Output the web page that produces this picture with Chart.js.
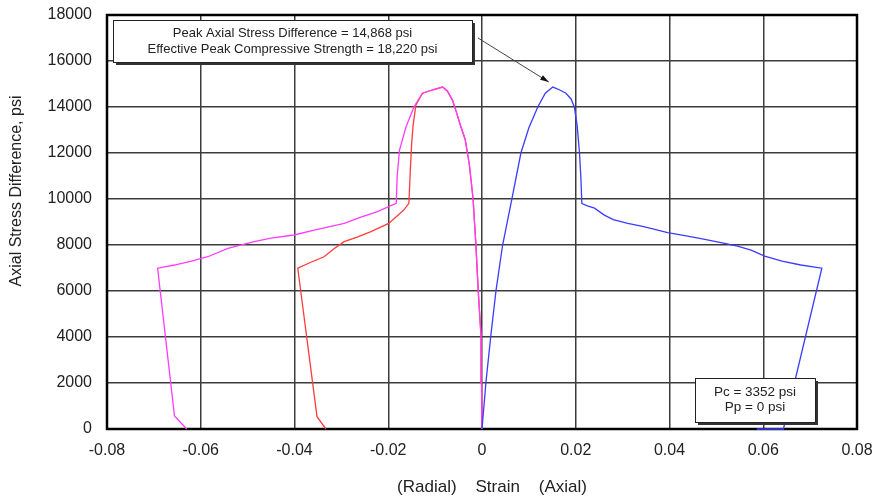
<!DOCTYPE html>
<html>
<head>
<meta charset="utf-8">
<script src="https://cdn.jsdelivr.net/npm/chart.js@4/dist/chart.umd.min.js"></script>
<style>
  body { margin: 0; background: #fff; }
  #wrap { width: 873px; height: 498px; position: relative; }
</style>
</head>
<body>
<div id="wrap"><canvas id="chart"></canvas></div>
<script>
// axial strain (blue)
var axialStrain = [0, 0.00085, 0.0019, 0.003, 0.0044, 0.0064, 0.0083, 0.0100, 0.0119, 0.0135, 0.0151,
  0.0165, 0.0179, 0.0190, 0.0197, 0.0203, 0.0208, 0.0211, 0.0213, 0.0225, 0.0240, 0.0261, 0.0280,
  0.0311, 0.0345, 0.0375, 0.0396, 0.0430, 0.0470, 0.0510, 0.0545, 0.0574, 0.0603, 0.0640, 0.0680,
  0.0725, 0.0643, 0.0586];
var axialStress = [0, 2050, 4090, 6040, 8000, 10030, 12000, 13100, 14000, 14600, 14868,
  14750, 14600, 14350, 14000, 13200, 12000, 10900, 9800, 9700, 9600, 9300, 9100,
  8940, 8800, 8650, 8540, 8420, 8270, 8100, 7950, 7780, 7520, 7300, 7130,
  6990, 0, 0];

// radial strain, first run (magenta)
var radialStrainA = [0, -0.0001, -0.0002, -0.0008, -0.0013, -0.0019, -0.0027, -0.0036, -0.0045, -0.0055,
  -0.0063, -0.0074, -0.0084, -0.0105, -0.0127, -0.0145, -0.0162, -0.0176, -0.0181, -0.0183, -0.0199,
  -0.0223, -0.0260, -0.0294, -0.0358, -0.0401, -0.0450, -0.0486, -0.0542, -0.0585, -0.0620, -0.0656,
  -0.0692, -0.0656, -0.0630];
var radialStressA = [0, 2000, 4000, 6000, 8000, 10000, 11500, 12600, 13140, 13800,
  14300, 14700, 14868, 14750, 14600, 14010, 13140, 12130, 10970, 9810, 9665,
  9450, 9200, 8940, 8650, 8435, 8300, 8145, 7855, 7490, 7300, 7130,
  6990, 565, 0];

// radial strain, second run (red)
var radialStrainB = [0, -0.0001, -0.0002, -0.0008, -0.0013, -0.0019, -0.0027, -0.0036, -0.0045, -0.0055,
  -0.0063, -0.0074, -0.0084, -0.0105, -0.0127, -0.0141, -0.0147, -0.0150, -0.0153, -0.0156, -0.0167,
  -0.0199, -0.0237, -0.0265, -0.0294, -0.0315, -0.0337, -0.0365, -0.0393, -0.0352, -0.0333];
var radialStressB = [0, 2000, 4000, 6000, 8000, 10000, 11500, 12600, 13140, 13800,
  14300, 14700, 14868, 14750, 14600, 14090, 13200, 12420, 11200, 9810, 9520,
  8940, 8580, 8350, 8145, 7850, 7490, 7250, 6990, 535, 0];

var xTicks = [-0.08, -0.06, -0.04, -0.02, 0, 0.02, 0.04, 0.06, 0.08];
var xTickLabels = ["-0.08", "-0.06", "-0.04", "-0.02", "0", "0.02", "0.04", "0.06", "0.08"];
var yTicks = [0, 2000, 4000, 6000, 8000, 10000, 12000, 14000, 16000, 18000];
var yTickLabels = ["0", "2000", "4000", "6000", "8000", "10000", "12000", "14000", "16000", "18000"];

var xTitle = "(Radial)    Strain    (Axial)";
var yTitle = "Axial Stress Difference, psi";
var peakNote = ["Peak Axial Stress Difference = 14,868 psi", "Effective Peak Compressive Strength = 18,220 psi"];
var pressNote = ["Pc = 3352 psi", "Pp = 0 psi"];
var peakPoint = { x: 0.0151, y: 14868 };

var FONT = "'Liberation Sans', Arial, sans-serif";

function pts(xs, ys) {
  return xs.map(function (v, i) { return { x: v, y: ys[i] }; });
}

function noteBox(ctx, x, y, w, h, lines, size, gap) {
  ctx.save();
  ctx.fillStyle = "#333";
  ctx.fillRect(x + 3, y + 3, w, h);
  ctx.fillStyle = "#fff";
  ctx.fillRect(x, y, w, h);
  ctx.strokeStyle = "#222";
  ctx.lineWidth = 1;
  ctx.strokeRect(x + 0.5, y + 0.5, w, h);
  ctx.fillStyle = "#222";
  ctx.font = size + "px " + FONT;
  ctx.textAlign = "center";
  ctx.textBaseline = "middle";
  var cy = y + h / 2 - (lines.length - 1) * gap / 2;
  lines.forEach(function (t, i) { ctx.fillText(t, x + w / 2, cy + i * gap); });
  ctx.restore();
}

var extras = {
  id: "extras",
  beforeDatasetsDraw: function (chart) {
    var a = chart.chartArea, ctx = chart.ctx;
    ctx.save();
    ctx.strokeStyle = "#000";
    ctx.lineWidth = 2.5;
    ctx.strokeRect(a.left, a.top, a.right - a.left, a.bottom - a.top);
    ctx.restore();
  },
  afterDatasetsDraw: function (chart) {
    var a = chart.chartArea, ctx = chart.ctx;
    var sx = chart.scales.x, sy = chart.scales.y;

    // arrow from note to peak
    var x0 = a.left + 371, y0 = a.top + 23;
    var x1 = sx.getPixelForValue(peakPoint.x) - 4, y1 = sy.getPixelForValue(peakPoint.y) - 5;
    var ang = Math.atan2(y1 - y0, x1 - x0);
    ctx.save();
    ctx.strokeStyle = "#444";
    ctx.fillStyle = "#111";
    ctx.lineWidth = 1;
    ctx.beginPath();
    ctx.moveTo(x0, y0);
    ctx.lineTo(x1, y1);
    ctx.stroke();
    ctx.beginPath();
    ctx.moveTo(x1, y1);
    ctx.lineTo(x1 - 9 * Math.cos(ang - 0.3), y1 - 9 * Math.sin(ang - 0.3));
    ctx.lineTo(x1 - 9 * Math.cos(ang + 0.3), y1 - 9 * Math.sin(ang + 0.3));
    ctx.closePath();
    ctx.fill();
    ctx.restore();

    noteBox(ctx, a.left + 6, a.top + 5, 359, 42, peakNote, 13, 16);
    noteBox(ctx, a.left + 588, a.top + 363, 120, 44, pressNote, 13.5, 15);

    // axis titles
    ctx.save();
    ctx.fillStyle = "#222";
    ctx.font = "17px " + FONT;
    ctx.textAlign = "center";
    ctx.textBaseline = "middle";
    ctx.fillText(xTitle, a.left + 385, a.bottom + 58);
    ctx.translate(17, a.top + 176);
    ctx.rotate(-Math.PI / 2);
    ctx.font = "16px " + FONT;
    ctx.fillText(yTitle, 0, 0);
    ctx.restore();
  }
};

var lineStyle = { showLine: true, pointRadius: 0, borderWidth: 1.3, tension: 0, clip: 4 };

new Chart(document.getElementById("chart"), {
  type: "scatter",
  data: {
    datasets: [
      Object.assign({ label: "Axial", data: pts(axialStrain, axialStress), borderColor: "#3c3cff" }, lineStyle),
      Object.assign({ label: "Radial A", data: pts(radialStrainA, radialStressA), borderColor: "#ff3cff" }, lineStyle),
      Object.assign({ label: "Radial B", data: pts(radialStrainB, radialStressB), borderColor: "#ff3c3c" }, lineStyle)
    ]
  },
  options: {
    responsive: true,
    maintainAspectRatio: false,
    animation: false,
    layout: { padding: { left: 0, top: 15, right: 16, bottom: 0 } },
    plugins: { legend: { display: false }, tooltip: { enabled: false } },
    scales: {
      x: {
        type: "linear",
        min: -0.08,
        max: 0.08,
        afterBuildTicks: function (s) { s.ticks = xTicks.map(function (v) { return { value: v }; }); },
        afterFit: function (s) { s.height = 69; s.paddingLeft = 0; s.paddingRight = 0; },
        grid: { color: "#3c3c3c", lineWidth: 1.5, drawTicks: false },
        border: { display: false },
        ticks: {
          padding: 12,
          color: "#222",
          font: { family: FONT, size: 16 },
          maxRotation: 0,
          callback: function (v) { return xTickLabels[xTicks.indexOf(v)]; }
        }
      },
      y: {
        type: "linear",
        min: 0,
        max: 18000,
        afterBuildTicks: function (s) { s.ticks = yTicks.map(function (v) { return { value: v }; }); },
        afterFit: function (s) { s.width = 107; s.paddingTop = 0; s.paddingBottom = 0; },
        grid: { color: "#3c3c3c", lineWidth: 1.5, drawTicks: false },
        border: { display: false },
        ticks: {
          padding: 15,
          color: "#222",
          font: { family: FONT, size: 16 },
          callback: function (v) { return yTickLabels[yTicks.indexOf(v)]; }
        }
      }
    }
  },
  plugins: [extras]
});
</script>
</body>
</html>
